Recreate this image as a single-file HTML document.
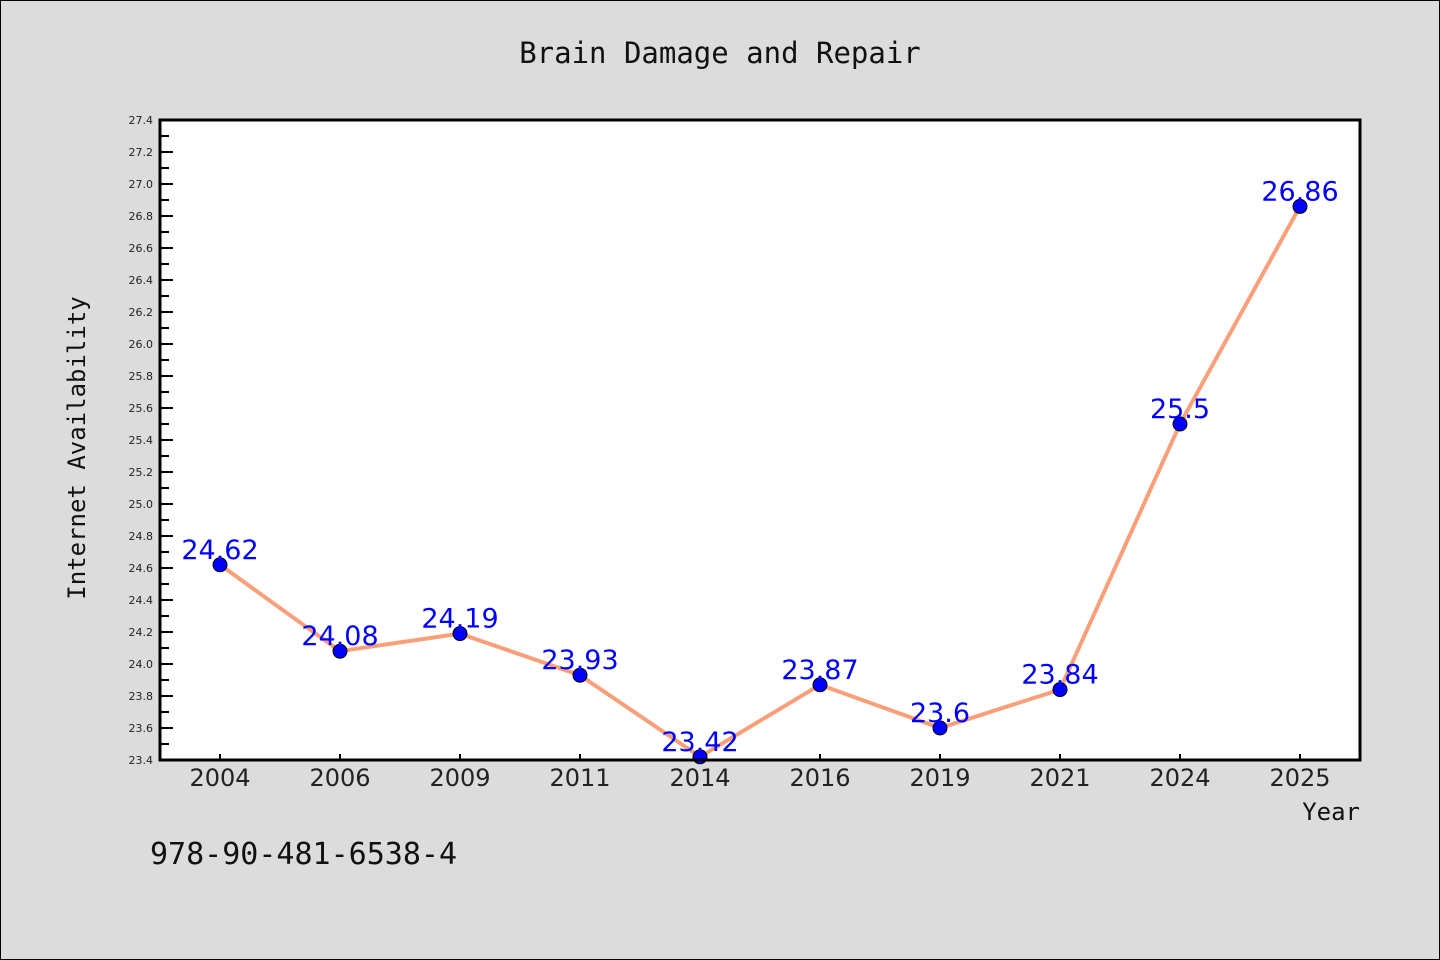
<!DOCTYPE html>
<html><head><meta charset="utf-8"><style>
body{margin:0;background:#dcdcdc;}
svg{display:block;font-family:"DejaVu Sans Mono","Liberation Mono",monospace;}
</style></head><body>
<svg width="1440" height="960" viewBox="0 0 1440 960">
<rect x="0.5" y="0.5" width="1439" height="959" fill="#dcdcdc" stroke="#000" stroke-width="1"/>
<text x="720" y="63" text-anchor="middle" font-size="29" fill="#111">Brain Damage and Repair</text>
<rect x="160" y="120" width="1200" height="640" fill="#fff"/>
<g id="g"></g>
<rect x="160" y="120" width="1200" height="640" fill="none" stroke="#000" stroke-width="3"/>
<text transform="translate(85,448) rotate(-90)" text-anchor="middle" font-size="24" fill="#111">Internet Availability</text>
<text x="1360" y="820" text-anchor="end" font-size="24" fill="#111">Year</text>
<text x="150" y="864" font-size="30" fill="#111">978-90-481-6538-4</text>
</svg>
<script>
const categories=["2004","2006","2009","2011","2014","2016","2019","2021","2024","2025"];
const values=[24.62,24.08,24.19,23.93,23.42,23.87,23.6,23.84,25.5,26.86];
const labels=["24.62","24.08","24.19","23.93","23.42","23.87","23.6","23.84","25.5","26.86"];
const yTicks=[23.4,23.6,23.8,24.0,24.2,24.4,24.6,24.8,25.0,25.2,25.4,25.6,25.8,26.0,26.2,26.4,26.6,26.8,27.0,27.2,27.4];
const yMin=23.4,yMax=27.4,L=160,R=1360,T=120,B=760;
const ns="http://www.w3.org/2000/svg",g=document.getElementById('g');
const x=i=>L+(R-L)/categories.length*(i+0.5);
const y=v=>B-(v-yMin)/(yMax-yMin)*(B-T);
function mk(t,a,p){const e=document.createElementNS(ns,t);for(const k in a)e.setAttribute(k,a[k]);(p||g).appendChild(e);return e;}
yTicks.forEach((v,i)=>{
 const ln=mk('line',{x1:L,x2:L+13,y1:y(v),y2:y(v),stroke:'#000','stroke-width':2});
 
 
 if(i<yTicks.length-1){const m=mk('line',{x1:L,x2:L+9,y1:(y(v)+y(yTicks[i+1]))/2,y2:(y(v)+y(yTicks[i+1]))/2,stroke:'#000','stroke-width':2});
 
 }
 const t=mk('text',{x:L-7,y:y(v)+4,'text-anchor':'end','font-size':11,fill:'#222','font-family':'DejaVu Sans, sans-serif'});
 t.textContent=v.toFixed(1);
 
 
});
categories.forEach((c,i)=>{
 const ln=mk('line',{x1:x(i),x2:x(i),y1:B,y2:B-6,stroke:'#000','stroke-width':2});
 
 
 const t=mk('text',{x:x(i),y:B+26,'text-anchor':'middle','font-size':24,fill:'#222','font-family':'DejaVu Sans, sans-serif'});
 t.textContent=c;
 
 
});
const pl=mk('polyline',{points:values.map((v,i)=>x(i)+','+y(v)).join(' '),fill:'none',stroke:'#f9a07a','stroke-width':4});


values.forEach((v,i)=>{
 const c=mk('circle',{cx:x(i),cy:y(v),r:7,fill:'#0000ff',stroke:'#000','stroke-width':1});
 
 
});
values.forEach((v,i)=>{
 const t=mk('text',{x:x(i),y:y(v)-6,'text-anchor':'middle','font-size':27,fill:'#0000ff','font-family':'DejaVu Sans, sans-serif'});
 t.textContent=labels[i];
 
 
});
</script>
</body></html>
